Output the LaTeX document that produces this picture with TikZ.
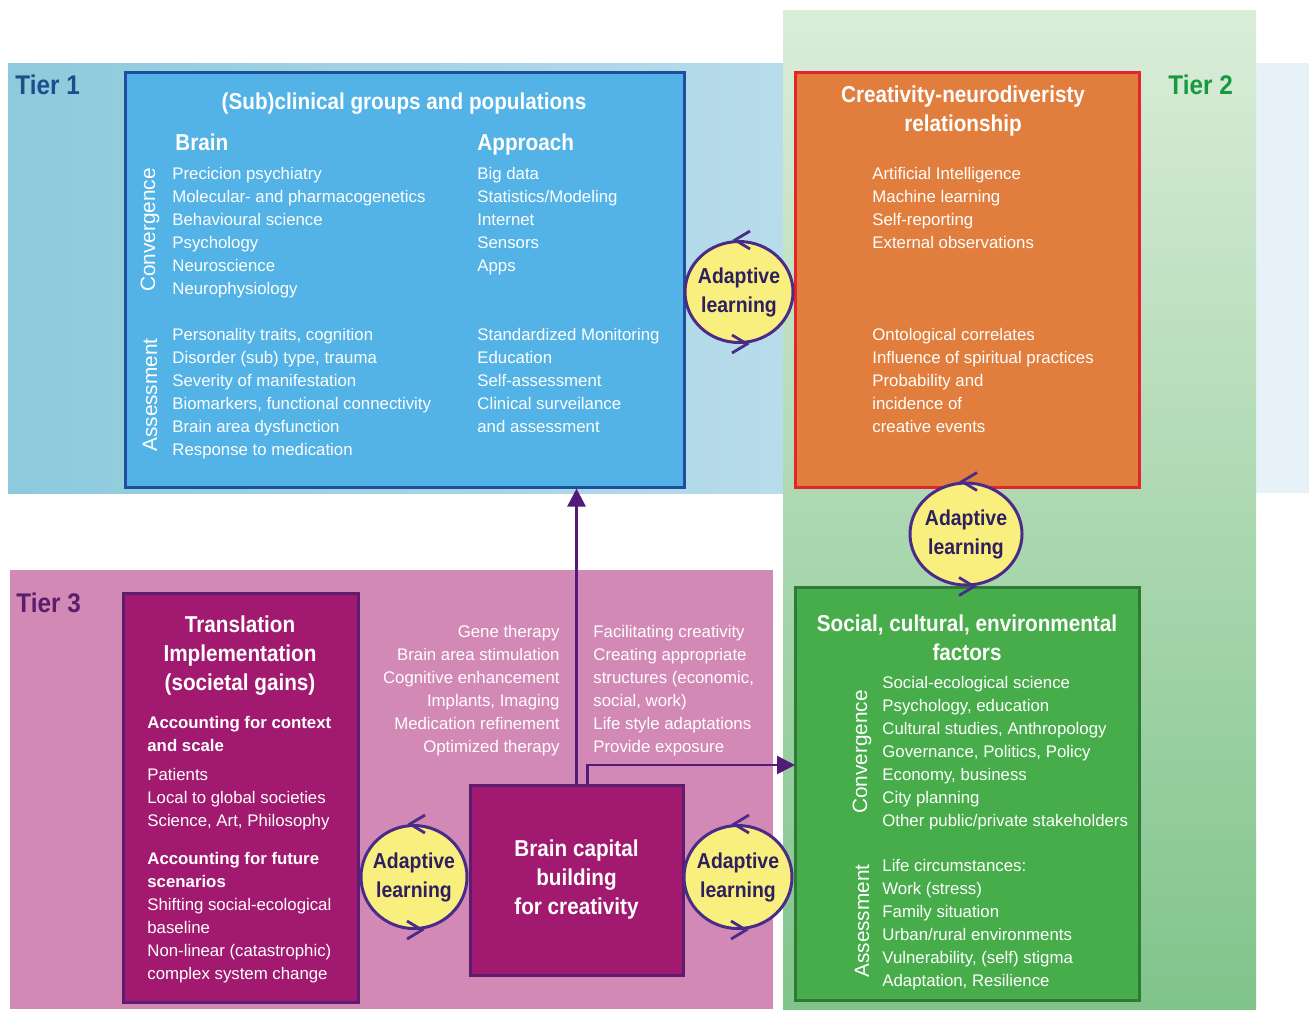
\documentclass[tikz,border=0pt]{standalone}
\usepackage{fontspec}
\setmainfont{Liberation Sans}
\newfontfamily\headfont{Liberation Sans}[FakeStretch=0.9]
\usetikzlibrary{positioning,arrows.meta,shapes.geometric}

\definecolor{bandblueL}{HTML}{8CCADC}
\definecolor{bandblueR}{HTML}{B8DCEB}
\definecolor{bandpale}{HTML}{E6F2F8}
\definecolor{bandgreenT}{HTML}{DAEDD9}
\definecolor{bandgreenB}{HTML}{80C48B}
\definecolor{bandpink}{HTML}{D389B5}
\definecolor{clinfill}{HTML}{53B3E6}
\definecolor{clinline}{HTML}{1D4F9C}
\definecolor{creafill}{HTML}{E27E3D}
\definecolor{crealine}{HTML}{E3262B}
\definecolor{socfill}{HTML}{47AD4A}
\definecolor{socline}{HTML}{2E7A36}
\definecolor{transfill}{HTML}{A21A6F}
\definecolor{transline}{HTML}{5E1C6E}
\definecolor{loopfill}{HTML}{F8EF7E}
\definecolor{loopline}{HTML}{4A2C88}
\definecolor{looptext}{HTML}{2E1F5E}
\definecolor{flowline}{HTML}{541A78}
\definecolor{tieronec}{HTML}{1A4F8C}
\definecolor{tiertwoc}{HTML}{18993F}
\definecolor{tierthreec}{HTML}{5A1E6C}

\tikzset{
  panel/.style={draw, line width=1.5pt, inner sep=0pt},
  listtext/.style={text=white, font=\fontsize{8.4}{11.5}\selectfont, inner sep=0pt, align=left},
  subhead/.style={listtext, font=\bfseries\fontsize{8.4}{11.5}\selectfont},
  paneltitle/.style={text=white, font=\headfont\bfseries\fontsize{11.5}{14.5}\selectfont, inner sep=0pt, align=center},
  tierlabel/.style={font=\headfont\bfseries\fontsize{13.5}{16}\selectfont, inner sep=0pt, anchor=north west},
  sidelabel/.style={text=white, font=\fontsize{10.4}{12}\selectfont, inner sep=0pt, rotate=90},
  adaptloop/.style={ellipse, draw=loopline, fill=loopfill, line width=1.5pt, inner sep=-5pt, align=center, text=looptext, font=\headfont\bfseries\fontsize{10.8}{14.5}\selectfont},
  chev/.style={draw=loopline, line width=1.4pt},
  flowarrow/.style={draw=flowline, line width=1.3pt, -{Triangle[length=9pt,width=9pt]}},
}

\begin{document}
\begin{tikzpicture}[x=0.5pt, y=-0.5pt]
\useasboundingbox (0,0) rectangle (1309,1009);
% tier bands
\shade[left color=bandblueL, right color=bandblueR] (8,63) rectangle (783,493);
\fill[bandpale] (1256,63) rectangle (1309,493);
\shade[top color=bandgreenT, bottom color=bandgreenB] (783,10) rectangle (1256,1009);
\fill[bandpink] (10,570) rectangle (773,1009);
\node[tierlabel, text=tieronec] (tierone) at (15,75) {Tier 1};
\node[tierlabel, text=tiertwoc] (tiertwo) at (1168,75) {Tier 2};
\node[tierlabel, text=tierthreec] (tierthree) at (16,593) {Tier 3};

% panels
\node[panel, draw=clinline, fill=clinfill, minimum width=279.5pt, minimum height=207.5pt] (clin) at (404.5,279.5) {};
\node[panel, draw=crealine, fill=creafill, minimum width=172pt, minimum height=207.5pt] (crea) at (967,279.5) {};
\node[panel, draw=socline, fill=socfill, minimum width=172pt, minimum height=206.5pt] (soc) at (967,793.5) {};
\node[panel, draw=transline, fill=transfill, minimum width=117.5pt, minimum height=204.5pt] (trans) at (240.5,797.5) {};
\node[panel, draw=transline, fill=transfill, minimum width=106.5pt, minimum height=95pt, paneltitle] (bcap) at (576.5,880) {Brain capital\\building\\for creativity};

% tier 1: clinical groups
\node[paneltitle, anchor=north] (clintitle) at (404,92) {(Sub)clinical groups and populations};
\node[paneltitle, anchor=north west] (brainhead) at (175,133) {Brain};
\node[paneltitle, anchor=north west] (apphead) at (477,133) {Approach};
\node[listtext, anchor=north west] (brainconv) at (172,167) {Precicion psychiatry\\Molecular- and pharmacogenetics\\Behavioural science\\Psychology\\Neuroscience\\Neurophysiology};
\node[listtext, anchor=north west] (brainass) at (172,328) {Personality traits, cognition\\Disorder (sub) type, trauma\\Severity of manifestation\\Biomarkers, functional connectivity\\Brain area dysfunction\\Response to medication};
\node[listtext, anchor=north west] (appconv) at (477,167) {Big data\\Statistics/Modeling\\Internet\\Sensors\\Apps};
\node[listtext, anchor=north west] (appass) at (477,328) {Standardized Monitoring\\Education\\Self-assessment\\Clinical surveilance\\and assessment};
\node[sidelabel] (clinconv) at (150,230) {Convergence};
\node[sidelabel] (clinass) at (150,395) {Assessment};

% tier 2: creativity relationship
\node[paneltitle, anchor=north] (creatitle) at (963,85) {Creativity-neurodiveristy\\relationship};
\node[listtext, anchor=north west] (creatop) at (872,167) {Artificial Intelligence\\Machine learning\\Self-reporting\\External observations};
\node[listtext, anchor=north west] (creabot) at (872,328) {Ontological correlates\\Influence of spiritual practices\\Probability and\\incidence of\\creative events};

% tier 2: social factors
\node[paneltitle, anchor=north] (soctitle) at (967,614) {Social, cultural, environmental\\factors};
\node[listtext, anchor=north west] (socconv) at (882,676) {Social-ecological science\\Psychology, education\\Cultural studies, Anthropology\\Governance, Politics, Policy\\Economy, business\\City planning\\Other public/private stakeholders};
\node[listtext, anchor=north west] (socass) at (882,859) {Life circumstances:\\Work (stress)\\Family situation\\Urban/rural environments\\Vulnerability, (self) stigma\\Adaptation, Resilience};
\node[sidelabel] (socconvlab) at (862,752) {Convergence};
\node[sidelabel] (socasslab) at (862,921) {Assessment};

% tier 3: translation
\node[paneltitle, anchor=north] (transtitle) at (240,615) {Translation\\Implementation\\(societal gains)};
\node[subhead, anchor=north west] (ctxhead) at (147,716) {Accounting for context\\and scale};
\node[listtext, anchor=north west] (ctxlist) at (147,768) {Patients\\Local to global societies\\Science, Art, Philosophy};
\node[subhead, anchor=north west] (futhead) at (147,852) {Accounting for future\\scenarios};
\node[listtext, anchor=north west] (futlist) at (147,898) {Shifting social-ecological\\baseline\\Non-linear (catastrophic)\\complex system change};
\node[listtext, anchor=north east, align=right] (medlist) at (560,625) {Gene therapy\\Brain area stimulation\\Cognitive enhancement\\Implants, Imaging\\Medication refinement\\Optimized therapy};
\node[listtext, anchor=north west] (soclist) at (593,625) {Facilitating creativity\\Creating appropriate\\structures (economic,\\social, work)\\Life style adaptations\\Provide exposure};

% connectors
\coordinate (socin) at (795,765);
\draw[flowarrow] (bcap.north) -- (bcap.north |- clin.south);
\draw[flowarrow] ([xshift=5.5pt]bcap.north) |- (socin);

% adaptive learning loops
\node[adaptloop, minimum width=54pt, minimum height=50.5pt] (alclin) at (739,292) {Adaptive\\learning};
\node[adaptloop, minimum width=56pt, minimum height=51pt] (alsoc) at (966,534) {Adaptive\\learning};
\node[adaptloop, minimum width=53pt, minimum height=51.5pt] (altrans) at (414,877) {Adaptive\\learning};
\node[adaptloop, minimum width=54pt, minimum height=51.5pt] (albcap) at (738,877) {Adaptive\\learning};
\draw[chev] ([xshift=-2pt]alclin.north) ++(15,-9) -- ++(-15,9) -- ++(15,9);
\draw[chev] ([xshift=4pt]alclin.south) ++(-15,-9) -- ++(15,9) -- ++(-15,9);
\draw[chev] ([xshift=-2pt]alsoc.north) ++(15,-9) -- ++(-15,9) -- ++(15,9);
\draw[chev] ([xshift=4pt]alsoc.south) ++(-15,-9) -- ++(15,9) -- ++(-15,9);
\draw[chev] ([xshift=-2pt]altrans.north) ++(15,-9) -- ++(-15,9) -- ++(15,9);
\draw[chev] ([xshift=4pt]altrans.south) ++(-15,-9) -- ++(15,9) -- ++(-15,9);
\draw[chev] ([xshift=-2pt]albcap.north) ++(15,-9) -- ++(-15,9) -- ++(15,9);
\draw[chev] ([xshift=4pt]albcap.south) ++(-15,-9) -- ++(15,9) -- ++(-15,9);
\end{tikzpicture}
\end{document}
